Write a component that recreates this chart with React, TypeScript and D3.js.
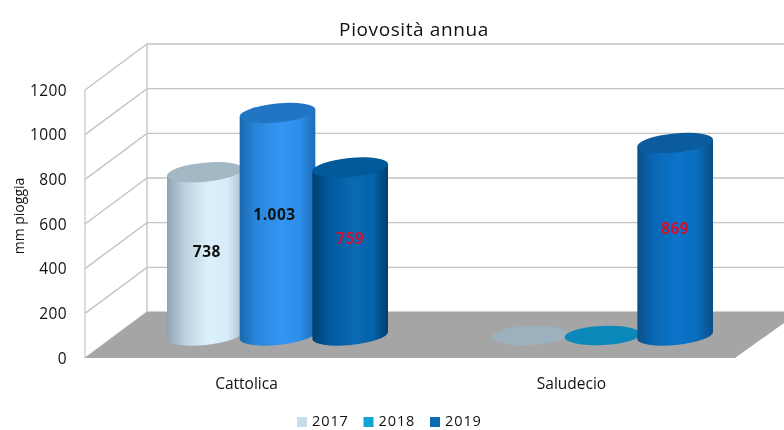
import React from "react";
import * as d3 from "d3";

const categories = ["Cattolica", "Saludecio"];
const seriesNames = ["2017", "2018", "2019"];
const values2017 = [738, 0];
const values2018 = [1003, 0];
const values2019 = [759, 869];
const yTicks = [0, 200, 400, 600, 800, 1000, 1200];
const labelText = [["738", "1.003", "759"], ["", "", "869"]];
const legendColors = ["#c9dcea", "#0fa3d8", "#0b6cb4"];

const W = 784, H = 430;
const FONT = "'Open Sans', sans-serif";
const depthX = 62, depthY = 46;
const frontLeft = 85, frontRight = 735, frontBottom = 358, frontTop = 90;
const barOffX = 30, barOffY = 21, baseLift = 1.5;
const rx = 38, ry = 9.5, tiltDeg = -5.5, flatTiltDeg = -2.5;
const tilt = (tiltDeg * Math.PI) / 180;

const x0 = d3.scaleBand<string>().domain(categories).range([frontLeft, frontRight]);
const x1 = d3.scaleBand<string>().domain(seriesNames).range([-109, 109]);
const y = d3.scaleLinear().domain([0, 1200]).range([frontBottom, frontTop]);
const lineColor = "#c4c4c4";

type Look = { id: string; stops: string[]; top: string };
const looks: Look[][] = [
  [
    { id: "a0", stops: ["#8ea4b4", "#b9cfdd", "#dcf0fc", "#d6ecfa", "#a9bfcd"], top: "#a3b7c4" },
    { id: "a1", stops: ["#1a68ae", "#2a86dc", "#3396f2", "#2d8eea", "#1c6cb6"], top: "#2176c4" },
    { id: "a2", stops: ["#003f70", "#005a9c", "#0a6ab4", "#0563aa", "#003f70"], top: "#005a9a" },
  ],
  [
    { id: "b0", stops: ["#a3b7c4", "#a3b7c4", "#a3b7c4", "#a3b7c4", "#a3b7c4"], top: "#9db0be" },
    { id: "b1", stops: ["#0a8fc0", "#0a8fc0", "#0a8fc0", "#0a8fc0", "#0a8fc0"], top: "#0a88ba" },
    { id: "b2", stops: ["#0a4f88", "#0a68b4", "#0b74ca", "#0a6cbc", "#084e86"], top: "#0a5c9e" },
  ],
];
const labelLift = [[3, 10, 14], [0, 0, 11]];
const labelFill = [["#111", "#111", "#c2183c"], ["", "", "#d2102f"]];
const labelDx = [[2, -3, 0], [0, 0, 0]];

function body(cx: number, topY: number, baseY: number) {
  const dx = rx * Math.cos(tilt), dy = rx * Math.sin(tilt);
  const lx = cx - dx, rxp = cx + dx;
  return `M${lx},${topY - dy} L${lx},${baseY - dy} A${rx},${ry} ${tiltDeg} 0 0 ${rxp},${baseY + dy} L${rxp},${topY + dy} Z`;
}

export default function App() {
  const allValues = [values2017, values2018, values2019];
  const ty = y(1200) - depthY;
  return (
    <svg
      width={W}
      height={H}
      style={{ position: "absolute", left: 0, top: 0, display: "block", background: "#fff", filter: "blur(0.45px)" }}
      fontFamily={FONT}
    >
      <defs>
        {looks.flat().map((l) => (
          <linearGradient key={l.id} id={l.id} x1="0" x2="1" y1="0" y2="0">
            {l.stops.map((c, i) => (
              <stop key={i} offset={[0, 0.22, 0.55, 0.8, 1][i]} stopColor={c} />
            ))}
          </linearGradient>
        ))}
      </defs>

      <text x={414} y={36} textAnchor="middle" fontSize={19} letterSpacing={0.6} fill="#111">Piovosità annua</text>

      {/* walls */}
      {yTicks.map((t) => (
        <g key={t} stroke={lineColor} strokeWidth={1.4} fill="none">
          <path d={`M${frontLeft},${y(t)} L${frontLeft + depthX},${y(t) - depthY} L${W},${y(t) - depthY}`} />
        </g>
      ))}
      <line x1={frontLeft} x2={frontLeft} y1={y(1200)} y2={y(0)} stroke={lineColor} strokeWidth={1.2} />
      <line x1={frontLeft + depthX} x2={frontLeft + depthX} y1={ty} y2={y(0) - depthY} stroke={lineColor} strokeWidth={1.4} />

      {/* floor */}
      <polygon
        points={`${frontLeft},${y(0)} ${frontLeft + depthX},${y(0) - depthY} ${W},${y(0) - depthY} ${W},${y(0) - depthY + 11} ${frontRight},${y(0)}`}
        fill="#a5a5a5"
      />

      {/* ticks */}
      {yTicks.map((t) => (
        <text key={t} x={67} y={y(t) + 5.5} textAnchor="end" fontSize={15.5} letterSpacing={0.4} fill="#111">{t}</text>
      ))}
      <text transform="translate(24,216) rotate(-90)" textAnchor="middle" fontSize={14} fill="#111">mm pioggia</text>

      {/* cylinders */}
      {categories.map((c, ci) => {
        const center = x0(c)! + x0.bandwidth() / 2 + barOffX;
        return (
          <g key={c}>
            {seriesNames.map((s, si) => {
              const v = allValues[si][ci];
              const cx = center + x1(s)! + x1.bandwidth() / 2;
              const baseY = y(0) - barOffY - baseLift;
              const topY = v > 0 ? y(v) - barOffY : baseY;
              const l = looks[ci][si];
              const rot = v > 0 ? tiltDeg : flatTiltDeg;
              return (
                <g key={s}>
                  {v > 0 && <path d={body(cx, topY, baseY)} fill={`url(#${l.id})`} />}
                  <ellipse
                    cx={cx}
                    cy={topY}
                    rx={rx}
                    ry={ry}
                    transform={`rotate(${rot} ${cx} ${topY})`}
                    fill={l.top}
                  />
                </g>
              );
            })}
          </g>
        );
      })}

      {/* data labels */}
      {categories.map((c, ci) =>
        seriesNames.map((s, si) => {
          const v = allValues[si][ci];
          if (!v) return null;
          const cx = x0(c)! + x0.bandwidth() / 2 + barOffX + x1(s)! + x1.bandwidth() / 2;
          const mid = y(v / 2) - barOffY;
          return (
            <text
              key={c + s}
              x={cx + labelDx[ci][si]}
              y={mid - labelLift[ci][si] + 5.5}
              textAnchor="middle"
              fontSize={15.5}
              fontWeight={700}
              letterSpacing={0.5}
              fill={labelFill[ci][si]}
            >
              {labelText[ci][si]}
            </text>
          );
        })
      )}

      {/* category labels */}
      {categories.map((c) => (
        <text key={c} x={x0(c)! + x0.bandwidth() / 2 - 1} y={389} textAnchor="middle" fontSize={15.5} fill="#111">{c}</text>
      ))}

      {/* legend */}
      {seriesNames.map((s, i) => {
        const lx = 297 + i * 66.5;
        return (
          <g key={s}>
            <rect x={lx} y={417} width={10} height={10} fill={legendColors[i]} />
            <text x={lx + 15} y={425.5} fontSize={14.5} letterSpacing={0.9} fill="#111">{s}</text>
          </g>
        );
      })}
    </svg>
  );
}
